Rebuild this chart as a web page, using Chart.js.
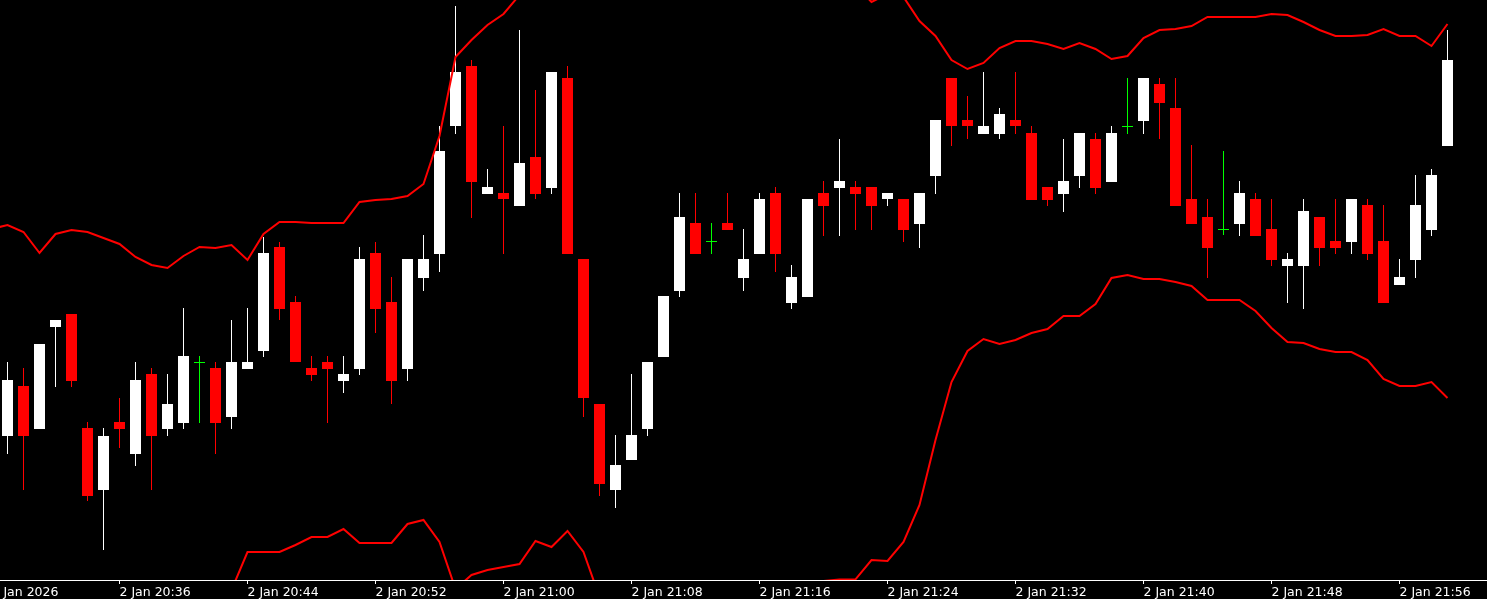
<!DOCTYPE html>
<html>
<head>
<meta charset="utf-8">
<script src="https://cdn.jsdelivr.net/npm/chart.js@4.4.1/dist/chart.umd.min.js"></script>
<style>
  html, body { margin: 0; padding: 0; background: #000; overflow: hidden; }
  canvas { display: block; }
</style>
</head>
<body>
<canvas id="chart" width="1487" height="599"></canvas>
<script>
// M1 candles, 2 Jan 2026 20:29 .. 21:59 (index 0 = 20:29), prices in chart points
const opens = [
  144, 194, 151, 253, 266, 152, 90, 158, 126, 206,
  151, 157, 217, 212, 163, 211, 229, 333, 278, 212,
  218, 199, 211, 327, 278, 211, 302, 326, 454, 514,
  386, 387, 374, 423, 392, 502, 321, 176, 90, 120,
  151, 223, 289, 357, 338, 357, 302, 326, 387, 277,
  283, 387, 392, 393, 393, 381, 381, 356, 404, 502,
  460, 446, 446, 460, 447, 393, 386, 404, 441, 398,
  453, 459, 496, 472, 381, 363, 350, 356, 381, 351,
  314, 314, 363, 339, 338, 375, 339, 295, 320, 350,
  434
];
const highs = [
  218, 212, 236, 260, 266, 158, 152, 182, 218, 212,
  206, 272, 224, 218, 260, 272, 343, 338, 284, 224,
  224, 224, 333, 338, 303, 321, 345, 454, 574, 520,
  411, 454, 550, 490, 508, 514, 321, 176, 145, 206,
  218, 284, 387, 387, 357, 387, 351, 387, 393, 315,
  381, 399, 441, 399, 393, 387, 381, 387, 460, 502,
  484, 508, 472, 508, 454, 393, 441, 447, 447, 454,
  502, 502, 502, 502, 435, 381, 429, 399, 387, 381,
  327, 381, 363, 381, 381, 381, 375, 321, 405, 411,
  550
];
const lows = [
  126, 90, 151, 193, 193, 79, 30, 132, 114, 90,
  144, 151, 157, 126, 151, 211, 223, 260, 218, 199,
  157, 187, 205, 247, 176, 199, 289, 308, 446, 362,
  386, 326, 374, 381, 386, 326, 163, 84, 72, 120,
  144, 223, 283, 326, 326, 350, 289, 326, 308, 271,
  283, 344, 344, 350, 350, 374, 338, 332, 386, 434,
  441, 446, 441, 446, 380, 374, 368, 392, 386, 398,
  446, 446, 441, 374, 356, 302, 345, 344, 344, 314,
  277, 271, 314, 326, 326, 320, 277, 295, 302, 344,
  434
];
const closes = [
  200, 144, 236, 260, 199, 84, 144, 151, 200, 144,
  176, 224, 217, 157, 218, 218, 327, 271, 218, 205,
  211, 206, 321, 271, 199, 321, 321, 429, 508, 398,
  393, 381, 417, 386, 508, 326, 182, 96, 115, 145,
  218, 284, 363, 326, 338, 350, 321, 381, 326, 303,
  381, 374, 399, 386, 374, 387, 350, 387, 460, 454,
  454, 454, 466, 454, 380, 380, 399, 447, 392, 447,
  453, 502, 477, 374, 356, 332, 350, 387, 344, 320,
  321, 369, 332, 332, 381, 326, 277, 303, 375, 405,
  520
];

// Bollinger bands, first value belongs to the 20:28 bar just off the left edge
const upperBand = [
  351,
  355, 348, 327, 346, 350, 348, 342, 336, 323, 315,
  312, 324, 333, 332, 335, 320, 346, 358, 358, 357,
  357, 357, 378, 380, 381, 384, 396, 444, 523, 540,
  555, 566, 585, 595, 605, 615, 625, 630, 632, 630,
  625, 620, 612, 605, 600, 596, 594, 592, 590, 588,
  588, 590, 592, 595, 578, 586, 583, 559, 544, 520,
  511, 517, 532, 539, 539, 536, 531, 537, 531, 521,
  524, 542, 550, 551, 554, 563, 563, 563, 563, 566,
  565, 558, 550, 544, 544, 545, 551, 544, 544, 534,
  556
];
const lowerBand = [
  -40,
  -40, -45, -40, -38, -35, -40, -50, -45, -40, -38,
  -35, -30, -28, -22, -10, 28, 28, 28, 35, 43,
  43, 51, 37, 37, 37, 56, 60, 38, -9, 5,
  10, 13, 16, 39, 33, 49, 28, -17, -30, -40,
  -45, -50, -50, -48, -45, -40, -35, -30, -22, -14,
  -6, -1, 0.5, 0.7, 20, 19, 38, 75, 140, 198,
  229, 241, 236, 240, 247, 251, 264, 264, 276, 302,
  305, 301, 301, 298, 294, 280, 280, 280, 269, 252,
  238, 237, 231, 228, 228, 220, 201, 194, 194, 198,
  182
];

const tickPositions = [-1, 7, 15, 23, 31, 39, 47, 55, 63, 71, 79, 87];
const tickLabels = ['2 Jan 2026', '2 Jan 20:36', '2 Jan 20:44', '2 Jan 20:52', '2 Jan 21:00',
  '2 Jan 21:08', '2 Jan 21:16', '2 Jan 21:24', '2 Jan 21:32', '2 Jan 21:40', '2 Jan 21:48', '2 Jan 21:56'];

const candleColor = (i) => {
  if (closes[i] > opens[i]) return '#ffffff';
  if (closes[i] < opens[i]) return '#ff0000';
  return '#00ff00';
};
const colors = opens.map((o, i) => candleColor(i));

const bodies = opens.map((o, i) => ({ x: i, y: [o, closes[i]] }));
const wicks = opens.map((o, i) => ({ x: i, y: [lows[i], highs[i]] }));
const upper = upperBand.map((v, i) => ({ x: i - 1, y: v }));
const lower = lowerBand.map((v, i) => ({ x: i - 1, y: v }));

const bandStyle = {
  type: 'line',
  borderColor: '#ff0000',
  borderWidth: 2,
  pointRadius: 0,
  tension: 0,
  clip: 0
};

new Chart(document.getElementById('chart'), {
  type: 'bar',
  data: {
    datasets: [
      { ...bandStyle, label: 'Upper', data: upper },
      { ...bandStyle, label: 'Lower', data: lower },
      {
        label: 'Body',
        data: bodies,
        backgroundColor: colors,
        barThickness: 11,
        minBarLength: 1,
        grouped: false,
        borderWidth: 0,
        inflateAmount: 0
      },
      {
        label: 'Wick',
        data: wicks,
        backgroundColor: colors,
        barThickness: 1,
        grouped: false,
        borderWidth: 0,
        inflateAmount: 0
      }
    ]
  },
  options: {
    responsive: false,
    animation: false,
    events: [],
    layout: { padding: 0 },
    plugins: {
      legend: { display: false },
      tooltip: { enabled: false }
    },
    scales: {
      x: {
        type: 'linear',
        min: -0.46875,
        max: 92.46875,
        offset: false,
        z: 1,
        grid: { offset: false, drawOnChartArea: false, drawTicks: true, tickLength: 4, color: '#ffffff' },
        border: { display: true, color: '#ffffff', width: 1 },
        ticks: {
          autoSkip: false,
          maxRotation: 0,
          minRotation: 0,
          align: 'start',
          padding: 1,
          color: '#ffffff',
          font: { family: 'DejaVu Sans', size: 12.5 },
          callback: (v, i) => tickLabels[i]
        },
        afterBuildTicks: (s) => { s.ticks = tickPositions.map(v => ({ value: v })); },
        afterFit: (s) => { s.height = 19; s.paddingLeft = 0; s.paddingRight = 0; }
      },
      y: {
        display: false,
        min: 0,
        max: 580
      }
    }
  }
});
</script>
</body>
</html>
